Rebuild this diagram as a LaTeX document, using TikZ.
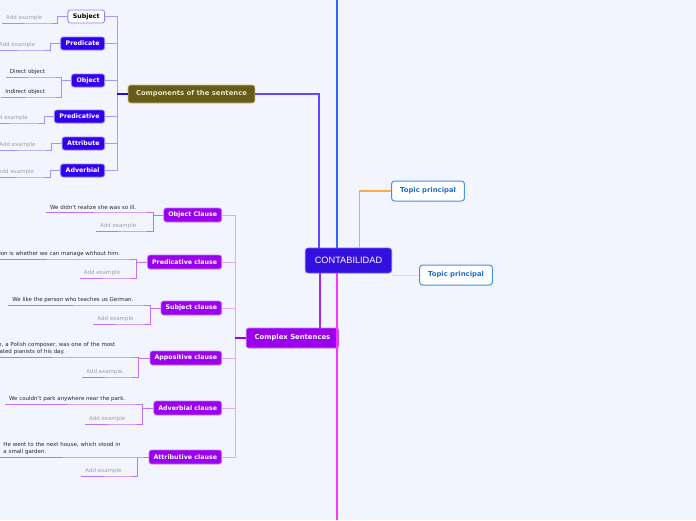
\documentclass[tikz,border=0pt]{standalone}
\usepackage{fontspec}
\setmainfont{DejaVu Sans}
\newfontfamily\rootfont{Liberation Sans}
\usepackage{tikz}
\usetikzlibrary{positioning,calc}
\definecolor{pagebg}{RGB}{242,245,254}
\definecolor{rootblue}{RGB}{51,16,224}
\definecolor{rootedge}{RGB}{110,90,240}
\definecolor{compolive}{RGB}{102,92,24}
\definecolor{compedge}{RGB}{196,190,140}
\definecolor{comptext}{RGB}{232,228,196}
\definecolor{partblue}{RGB}{51,0,238}
\definecolor{partedge}{RGB}{140,125,255}
\definecolor{partline}{RGB}{160,148,250}
\definecolor{parttree}{RGB}{170,155,250}
\definecolor{clausepurple}{RGB}{153,0,238}
\definecolor{clauseedge}{RGB}{196,120,245}
\definecolor{clausetree}{RGB}{218,172,248}
\definecolor{clauseline}{RGB}{192,115,245}
\definecolor{topicblue}{RGB}{30,110,215}
\definecolor{topicedge}{RGB}{70,145,230}
\definecolor{linkblue}{RGB}{51,102,255}
\definecolor{linkmagenta}{RGB}{255,51,255}
\definecolor{linkorange}{RGB}{250,170,70}
\definecolor{linkgreen}{RGB}{205,238,160}
\definecolor{linkviolet}{RGB}{100,70,245}
\definecolor{linkpurple}{RGB}{165,40,240}
\definecolor{exgray}{RGB}{160,160,160}
\definecolor{extext}{RGB}{40,40,40}

\begin{document}
\begin{tikzpicture}[
    x=1pt, y=-1pt,
    rootnode/.style={rectangle, draw=rootedge, fill=rootblue, text=white, rounded corners=3pt, line width=0.8pt, inner xsep=9.5pt, minimum height=25pt, font=\rootfont\fontsize{9.2}{11}\selectfont},
    topicnode/.style={rectangle, draw=topicedge, fill=white, text=topicblue, rounded corners=3pt, line width=1pt, inner xsep=8.5pt, minimum height=20pt, font=\fontsize{6.85}{8}\selectfont\bfseries},
    compnode/.style={rectangle, draw=compedge, fill=compolive, text=comptext, rounded corners=2.5pt, line width=0.8pt, inner xsep=8pt, minimum height=18pt, font=\fontsize{6.85}{8}\selectfont\bfseries},
    cplxnode/.style={rectangle, draw=clauseedge, fill=clausepurple, text=white, rounded corners=2.5pt, line width=0.8pt, inner xsep=8.5pt, minimum height=20pt, font=\fontsize{6.85}{8}\selectfont\bfseries},
    partnode/.style={rectangle, draw=partedge, fill=partblue, text=white, rounded corners=2.5pt, line width=0.8pt, inner xsep=5pt, inner ysep=1pt, minimum height=13pt, anchor=east, font=\fontsize{6.3}{7.5}\selectfont\bfseries},
    subjnode/.style={partnode, fill=white, text=black},
    clausenode/.style={rectangle, draw=clauseedge, fill=clausepurple, text=white, rounded corners=2.5pt, line width=0.8pt, inner xsep=4.5pt, inner ysep=1pt, minimum height=14pt, anchor=east, font=\fontsize{6.3}{7.5}\selectfont\bfseries},
    exnode/.style={inner xsep=4pt, inner ysep=2pt, anchor=south east, align=left, text=extext, font=\fontsize{5.5}{6.7}\selectfont},
    addnode/.style={exnode, text=exgray},
    partex/.style={draw=partline, line width=0.9pt},
    parttreeline/.style={draw=parttree, line width=1pt},
    clauseex/.style={draw=clauseline, line width=0.9pt},
    clausetreeline/.style={draw=clausetree, line width=1pt}
]
    \path[use as bounding box, fill=pagebg] (0,0) rectangle (696,520);

    % main topics
    \node (root) [rootnode] at (348.5,260.5) {CONTABILIDAD};
    \node (tp1) [topicnode] at (428,191) {Topic principal};
    \node (tp2) [topicnode] at (456,275) {Topic principal};
    \node (comp) [compnode] at (191.5,94) {Components of the sentence};
    \node (cplx) [cplxnode] at (292.5,338) {Complex Sentences};

    % parts of the sentence
    \node (subj) [subjnode] at (105,16.5) {Subject};
    \node (pred) [partnode] at (105,43.5) {Predicate};
    \node (obj) [partnode] at (105,80.5) {Object};
    \node (predv) [partnode] at (105,116.5) {Predicative};
    \node (attr) [partnode] at (105,143.5) {Attribute};
    \node (adv) [partnode] at (105,170.5) {Adverbial};

    \node (subjx) [addnode] at ($(subj.west)+(-21,6.5)$) {Add example};
    \node (predx) [addnode] at ($(pred.west)+(-21,6.5)$) {Add example};
    \node (objx1) [exnode] at ($(obj.west)+(-22,-3.5)$) {Direct object};
    \node (objx2) [exnode] at ($(obj.west)+(-22,16.5)$) {Indirect object};
    \node (predvx) [addnode] at ($(predv.west)+(-22,6.5)$) {Add example};
    \node (attrx) [addnode] at ($(attr.west)+(-22,6.5)$) {Add example};
    \node (advx) [addnode] at ($(adv.west)+(-22,6.5)$) {Add example};

    % clauses
    \node (oc) [clausenode] at (222,215) {Object Clause};
    \node (pc) [clausenode] at (222,262) {Predicative clause};
    \node (sc) [clausenode] at (222,308) {Subject clause};
    \node (ac) [clausenode] at (222,358) {Appositive clause};
    \node (dc) [clausenode] at (222,408) {Adverbial clause};
    \node (tc) [clausenode] at (222,457) {Attributive clause};

    \node (ocx1) [exnode] at ($(oc.west)+(-23,-3)$) {We didn't realize she was so ill.};
    \node (ocx2) [addnode] at ($(oc.west)+(-23,16)$) {Add example};
    \node (pcx1) [exnode] at ($(pc.west)+(-23,-3)$) {The question is whether we can manage without him.};
    \node (pcx2) [addnode] at ($(pc.west)+(-23,16)$) {Add example};
    \node (scx1) [exnode] at ($(sc.west)+(-23,-3)$) {We like the person who teaches us German.};
    \node (scx2) [addnode] at ($(sc.west)+(-23,16)$) {Add example};
    \node (acx1) [exnode, text width=140pt] at ($(ac.west)+(-23,-1)$) {Chopin, a Polish composer, was one of the most\\celebrated pianists of his day.};
    \node (acx2) [addnode] at ($(ac.west)+(-23,19)$) {Add example};
    \node (dcx1) [exnode] at ($(dc.west)+(-24,-4)$) {We couldn't park anywhere near the park.};
    \node (dcx2) [addnode] at ($(dc.west)+(-24,16)$) {Add example};
    \node (tcx1) [exnode, text width=118pt] at ($(tc.west)+(-23,0)$) {He went to the next house, which stood in\\a small garden.};
    \node (tcx2) [addnode] at ($(tc.west)+(-23,19)$) {Add example};

    % links from the root
    \coordinate (topend) at (337,0);
    \coordinate (bottomend) at (337,520);
    \draw[linkblue, line width=2pt] (topend) -- (topend |- root.north);
    \draw[linkmagenta, line width=2pt] (bottomend |- root.south) -- (bottomend);
    \draw[linkorange, line width=1.2pt] ([xshift=11pt]root.north) |- (tp1.west);
    \draw[linkgreen, line width=1pt] (root.south east |- tp2.west) -- (tp2.west);
    \draw[linkviolet, line width=1.2pt] (comp.east) -| ([xshift=-29.5pt]root.north);
    \draw[linkpurple, line width=1.3pt] ([xshift=-28.5pt]root.south) -- ([xshift=-28.5pt]root.south |- cplx.north);

    % components tree
    \draw[parttreeline] (subj.east) -- ++(12,0) coordinate (ptop) |- (adv.east);
    \draw[parttreeline] (pred.east) -- (pred.east -| ptop);
    \draw[parttreeline] (obj.east) -- (obj.east -| ptop);
    \draw[parttreeline] (predv.east) -- (predv.east -| ptop);
    \draw[parttreeline] (attr.east) -- (attr.east -| ptop);
    \draw[partblue, line width=1.2pt] (comp.west) -- (comp.west -| ptop);

    \draw[partex] (subj.west) -- ++(-10,0) |- (subjx.south east) -- (subjx.south west);
    \draw[partex] (pred.west) -- ++(-10,0) |- (predx.south east) -- (predx.south west);
    \draw[partex] (obj.west) -- ++(-10,0) coordinate (objb) |- (objx1.south east) -- (objx1.south west);
    \draw[partex] (objb) |- (objx2.south east) -- (objx2.south west);
    \draw[partex] (predv.west) -- ++(-10,0) |- (predvx.south east) -- (predvx.south west);
    \draw[partex] (attr.west) -- ++(-10,0) |- (attrx.south east) -- (attrx.south west);
    \draw[partex] (adv.west) -- ++(-10,0) |- (advx.south east) -- (advx.south west);

    % clause tree
    \draw[clausetreeline] (oc.east) -- ++(13,0) coordinate (ctop) |- (tc.east);
    \draw[clausetreeline] (pc.east) -- (pc.east -| ctop);
    \draw[clausetreeline] (sc.east) -- (sc.east -| ctop);
    \draw[clausetreeline] (ac.east) -- (ac.east -| ctop);
    \draw[clausetreeline] (dc.east) -- (dc.east -| ctop);
    \draw[clausepurple, line width=1.2pt] (cplx.west) -- (cplx.west -| ctop);

    \draw[clauseex] (oc.west) -- ++(-10,0) coordinate (ocb) |- (ocx1.south east) -- (ocx1.south west);
    \draw[clauseex] (ocb) |- (ocx2.south east) -- (ocx2.south west);
    \draw[clauseex] (pc.west) -- ++(-11,0) coordinate (pcb) |- (pcx1.south east) -- (pcx1.south west);
    \draw[clauseex] (pcb) |- (pcx2.south east) -- (pcx2.south west);
    \draw[clauseex] (sc.west) -- ++(-10,0) coordinate (scb) |- (scx1.south east) -- (scx1.south west);
    \draw[clauseex] (scb) |- (scx2.south east) -- (scx2.south west);
    \draw[clauseex] (ac.west) -- ++(-11,0) coordinate (acb) |- (acx1.south east) -- (acx1.south west);
    \draw[clauseex] (acb) |- (acx2.south east) -- (acx2.south west);
    \draw[clauseex] (dc.west) -- ++(-11,0) coordinate (dcb) |- (dcx1.south east) -- (dcx1.south west);
    \draw[clauseex] (dcb) |- (dcx2.south east) -- (dcx2.south west);
    \draw[clauseex] (tc.west) -- ++(-11,0) coordinate (tcb) |- (tcx1.south east) -- (tcx1.south west);
    \draw[clauseex] (tcb) |- (tcx2.south east) -- (tcx2.south west);

\end{tikzpicture}
\end{document}
